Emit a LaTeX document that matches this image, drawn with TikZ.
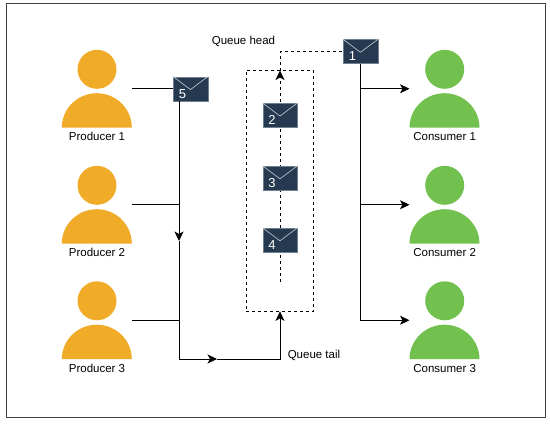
\documentclass[tikz,border=0pt]{standalone}
\usepackage{fontspec}
\setmainfont{Liberation Sans}
\usetikzlibrary{arrows.meta}

\definecolor{prodorange}{HTML}{F0AB29}
\definecolor{consgreen}{HTML}{72C14F}
\definecolor{msgblue}{HTML}{253A50}

\tikzset{
    line/.style={line width=0.8pt, black},
    tip/.style={-{Stealth[length=9.5pt,width=9pt,inset=2.5pt]}},
    qdash/.style={line width=0.8pt, dash pattern=on 3pt off 3pt},
    person/.style={minimum width=70pt, minimum height=77.5pt, inner sep=0pt},
    personname/.style={font=\fontsize{11.5}{13}\selectfont, inner sep=0pt},
    msg/.style={fill=msgblue, draw=msgblue!65, line width=0.4pt, minimum width=34.5pt, minimum height=24pt, inner sep=0pt},
    msgnum/.style={text=white, font=\fontsize{13}{15}\selectfont, inner sep=0pt},
}

% Person: bounding node, head, body and name
\newcommand{\person}[5]{
    \node[person] (#1) at (#2,#3) {};
    \fill[#4] ([yshift=-19.5pt]#1.north) circle (19.5pt);
    \fill[#4] (#1.south west) arc[start angle=180, end angle=0, x radius=35pt, y radius=34.5pt] -- cycle;
    \node[personname] (#1name) at ([yshift=-9pt]#1.south) {#5};
}
% Envelope with its number
\newcommand{\envelope}[4]{
    \node[msg] (#1) at (#2,#3) {};
    \draw[white!75!msgblue, line width=0.6pt] (#1.north west) -- ([yshift=-13pt]#1.north) -- (#1.north east);
    \node[msgnum] (#1num) at ([xshift=-8pt,yshift=-5pt]#1.center) {#4};
}

\begin{document}
\begin{tikzpicture}[x=1pt, y=-1pt]
    \useasboundingbox (0,0) rectangle (550,424);
    % Frame
    \draw[line width=1pt, black!75] (6,3) rectangle (545,417);
    % Producers and consumers
    \person{prod1}{97}{88.75}{prodorange}{Producer 1}
    \person{prod2}{97}{204.75}{prodorange}{Producer 2}
    \person{prod3}{97}{320.25}{prodorange}{Producer 3}
    \person{cons1}{444.7}{88.75}{consgreen}{Consumer 1}
    \person{cons2}{444.7}{204.75}{consgreen}{Consumer 2}
    \person{cons3}{444.7}{320.25}{consgreen}{Consumer 3}
    % Queue box and the dashed line through it
    \node[qdash, draw, minimum width=67.5pt, minimum height=241pt, inner sep=0pt] (queue) at (280,190.5) {};
    \coordinate (qstart) at (280,282);
    \coordinate (qarrow) at (280,70.5);
    \draw[qdash, tip] (qstart) -- (qarrow);
    % Messages
    \envelope{msg1}{360.5}{51.5}{1}
    \envelope{msg2}{280}{115.2}{2}
    \envelope{msg3}{280}{178}{3}
    \envelope{msg4}{280}{240}{4}
    \envelope{msg5}{190.5}{88.75}{5}
    \draw[qdash] (qarrow) |- (msg1.west);
    % Producer side
    \coordinate (bus) at (179,241);
    \coordinate (busend) at (179,359);
    \coordinate (tailarrow) at (217,359);
    \draw[line] (prod1.east) -- (msg5.west);
    \draw[line, tip] (msg5.south -| bus) -- (bus);
    \draw[line] (bus) -- (busend);
    \draw[line] (prod2.east) -- (prod2.east -| bus);
    \draw[line] (prod3.east) -- (prod3.east -| bus);
    \draw[line, tip] (busend) -- (tailarrow);
    \draw[line, tip] (tailarrow) -| (queue.south);
    % Consumer side
    \draw[line, tip] (msg1.south) |- (cons3.west);
    \draw[line, tip] (cons1.west -| msg1.south) -- (cons1.west);
    \draw[line, tip] (cons2.west -| msg1.south) -- (cons2.west);
    % Labels
    \node[personname] (headlabel) at (243.5,41) {Queue head};
    \node[personname] (taillabel) at (314,355) {Queue tail};
\end{tikzpicture}
\end{document}
